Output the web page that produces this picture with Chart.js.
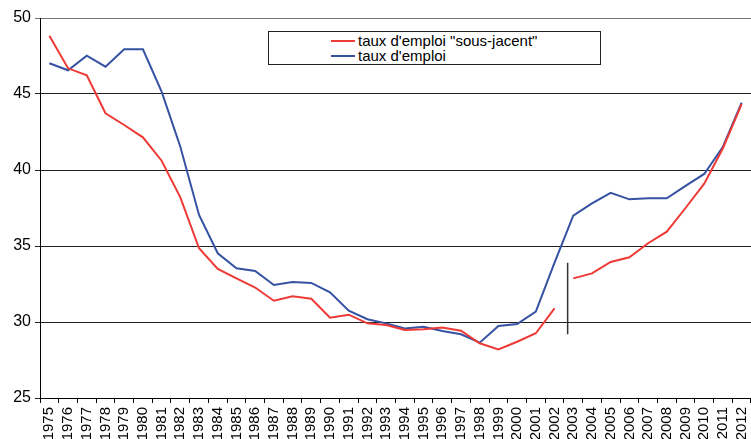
<!DOCTYPE html>
<html>
<head>
<meta charset="utf-8">
<script src="https://cdn.jsdelivr.net/npm/chart.js@4/dist/chart.umd.min.js"></script>
<style>
    body { margin: 0; background: #fff; }
    #wrap { position: relative; width: 751px; height: 439px; overflow: hidden; }
    #legend {
        position: absolute; left: 268px; top: 31px; width: 333px; height: 34px;
        border: 1px solid #222; background: #fff; box-sizing: border-box;
        padding: 1px 0 0 62px; font: 15px "Liberation Sans", Arial, sans-serif; color: #000;
    }
    #legend .item { display: flex; align-items: center; height: 15px; line-height: 15px; }
    #legend .swatch { width: 24px; height: 2px; margin-right: 3px; }
</style>
</head>
<body>
<div id="wrap">
    <canvas id="chart" width="751" height="439"></canvas>
    <div id="legend"></div>
</div>
<script>
const years = ["1975", "1976", "1977", "1978", "1979", "1980", "1981", "1982", "1983", "1984",
    "1985", "1986", "1987", "1988", "1989", "1990", "1991", "1992", "1993", "1994",
    "1995", "1996", "1997", "1998", "1999", "2000", "2001", "2002", "2003", "2004",
    "2005", "2006", "2007", "2008", "2009", "2010", "2011", "2012"];

// taux d'emploi "sous-jacent" (rupture de série entre 2002 et 2003)
const tauxSousJacent = [48.84, 46.69, 46.23, 43.73, 42.96, 42.15, 40.61, 38.2, 34.85, 33.49,
    32.87, 32.27, 31.4, 31.69, 31.53, 30.28, 30.48, 29.91, 29.8, 29.47,
    29.52, 29.63, 29.43, 28.6, 28.2, 28.7, 29.26, 30.9, 32.87, 33.2,
    33.95, 34.26, 35.18, 35.94, 37.5, 39.1, 41.43, 44.34];

// taux d'emploi
const tauxEmploi = [47.02, 46.56, 47.52, 46.8, 47.94, 47.94, 45.15, 41.53, 37.04, 34.52,
    33.53, 33.36, 32.43, 32.63, 32.57, 31.95, 30.75, 30.18, 29.91, 29.58,
    29.69, 29.41, 29.19, 28.64, 29.74, 29.87, 30.68, 33.9, 37.0, 37.8,
    38.5, 38.07, 38.14, 38.14, 38.95, 39.74, 41.53, 44.43];

const ruptureIndex = 27;          // dernier point avant la rupture
const ruptureMarkX = 27.7;        // position du trait vertical (en index de catégorie)
const ruptureMarkY = [33.9, 29.2];

const yTicks = [25, 30, 35, 40, 45, 50];

const red = "#ee3a36";
const blue = "#3552a3";

const chart = new Chart(document.getElementById("chart"), {
    type: "line",
    data: {
        labels: years,
        datasets: [
            {
                label: "taux d'emploi \"sous-jacent\"",
                data: tauxSousJacent,
                borderColor: red,
                borderWidth: 2,
                pointRadius: 0,
                tension: 0,
                segment: {
                    borderColor: ctx => ctx.p0DataIndex === ruptureIndex ? "rgba(0,0,0,0)" : red
                }
            },
            {
                label: "taux d'emploi",
                data: tauxEmploi,
                borderColor: blue,
                borderWidth: 2,
                pointRadius: 0,
                tension: 0
            },
            {
                label: "rupture",
                data: ruptureMarkY.map(y => ({ x: ruptureMarkX, y })),
                xAxisID: "xb",
                borderColor: "#333",
                borderWidth: 1.5,
                pointRadius: 0
            }
        ]
    },
    options: {
        responsive: false,
        animation: false,
        layout: { padding: { top: 18, right: 0, left: 0, bottom: 0 } },
        plugins: { legend: { display: false }, tooltip: { enabled: false } },
        scales: {
            x: {
                offset: true,
                grid: { display: true, drawOnChartArea: false, drawTicks: true, tickLength: 5, color: "#000", offset: true },
                border: { color: "#000", width: 1 },
                ticks: {
                    autoSkip: false, maxRotation: 90, minRotation: 90, padding: 4,
                    color: "#000", font: { family: "'Liberation Sans', Arial", size: 15 }
                },
                afterFit: s => { s.height = 41; s.paddingLeft = 0; s.paddingRight = 0; }
            },
            xb: {
                type: "linear", display: false, min: -0.5, max: years.length - 0.5
            },
            y: {
                min: 25, max: 50,
                afterBuildTicks: s => { s.ticks = yTicks.map(v => ({ value: v })); },
                grid: {
                    color: ctx => ctx.tick && ctx.tick.value === 50 ? "#777" : "#222",
                    tickLength: 5, lineWidth: 1
                },
                border: { color: "#000", width: 1 },
                ticks: { padding: 4, color: "#000", font: { family: "'Liberation Sans', Arial", size: 16 } },
                afterFit: s => { s.width = 40; s.paddingTop = 0; s.paddingBottom = 0; }
            }
        }
    }
});

// légende HTML construite à partir des séries
const legendEl = document.getElementById("legend");
chart.data.datasets.slice(0, 2).forEach(ds => {
    const item = document.createElement("div");
    item.className = "item";
    item.innerHTML = `<span class="swatch" style="background:${ds.borderColor}"></span><span>${ds.label}</span>`;
    legendEl.appendChild(item);
});
</script>
</body>
</html>
